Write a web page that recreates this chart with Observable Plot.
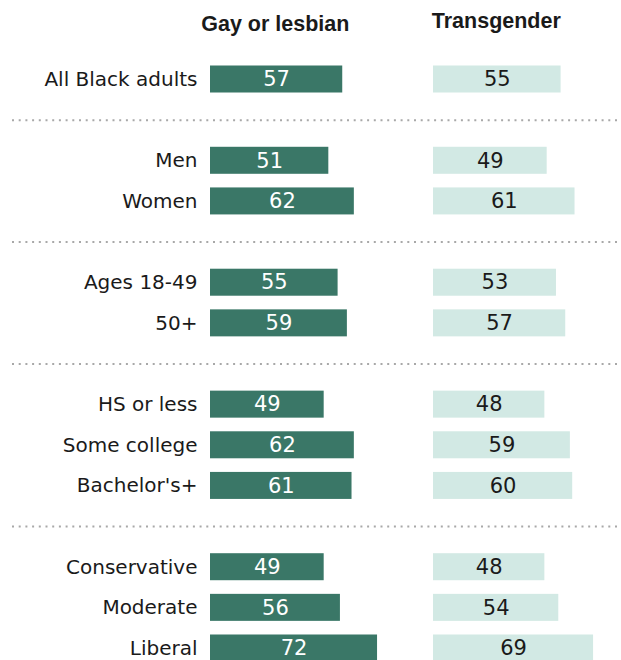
<!DOCTYPE html>
<html><head><meta charset="utf-8">
<script src="https://cdn.jsdelivr.net/npm/d3@7"></script>
<script src="https://cdn.jsdelivr.net/npm/@observablehq/plot@0.6"></script>
<style>body{margin:0;background:#fff}</style>
</head><body><div id="chart"></div>
<script>
const categories = ["All Black adults","Men","Women","Ages 18-49","50+","HS or less","Some college","Bachelor's+","Conservative","Moderate","Liberal"];
const groupIndex = [0,1,1,2,2,3,3,3,4,4,4];
const gayLesbian = [57,51,62,55,59,49,62,61,49,56,72];
const transgender = [55,49,61,53,57,48,59,60,48,54,69];
const seriesNames = ["Gay or lesbian","Transgender"];
const seriesColors = ["#3a7767","#d2e9e4"];
const textColors = ["#ffffff","#1a1a1a"];

const slots = [];
const separators = [];
categories.forEach((c,i)=>{
  if (i>0 && groupIndex[i]!==groupIndex[i-1]) { const s = "sep"+groupIndex[i]; separators.push(s); slots.push(s); }
  slots.push(c);
});

const rows = categories.flatMap((c,i)=>[
  {category:c, series:seriesNames[0], value:gayLesbian[i]},
  {category:c, series:seriesNames[1], value:transgender[i]}
]);

const chart = Plot.plot({
  width:621, height:660, marginLeft:210, marginRight:2.4, marginTop:36, marginBottom:0,
  style:{fontFamily:"DejaVu Sans", fontSize:"20px", color:"#1a1a1a", background:"#fff", overflow:"visible"},
  x:{domain:[0,80], axis:null},
  y:{domain:slots, range:[65.5,661.5], paddingInner:0.3356, paddingOuter:0, round:false, axis:null},
  fx:{domain:seriesNames, paddingInner:0.1677, paddingOuter:0, round:false, axis:null},
  color:{domain:seriesNames, range:seriesColors},
  marks:[
    Plot.axisY({ticks:separators, tickSize:-605, dx:-198, text:null, label:null, stroke:"#a8a8a8", strokeWidth:2, strokeDasharray:"2,4.7", strokeOpacity:1}),
    Plot.axisY({ticks:categories, tickSize:0, tickPadding:13, label:null}),
    Plot.axisFx({anchor:"top", ticks:[seriesNames[0]], tickSize:0, tickPadding:0, label:null, dx:-28, dy:-6, fontFamily:"Liberation Sans", fontWeight:"bold", fontSize:21.5}),
    Plot.axisFx({anchor:"top", ticks:[seriesNames[1]], tickSize:0, tickPadding:0, label:null, dx:-30, dy:-9, fontFamily:"Liberation Sans", fontWeight:"bold", fontSize:21.5}),
    Plot.barX(rows, {fx:"series", y:"category", x:"value", fill:"series"}),
    ...seriesNames.map((s,k)=>Plot.text(rows.filter(d=>d.series===s), {fx:"series", y:"category", x:d=>d.value/2, text:d=>String(d.value), fill:textColors[k], fontSize:21}))
  ]
});
document.getElementById("chart").appendChild(chart);
</script>
</body></html>
